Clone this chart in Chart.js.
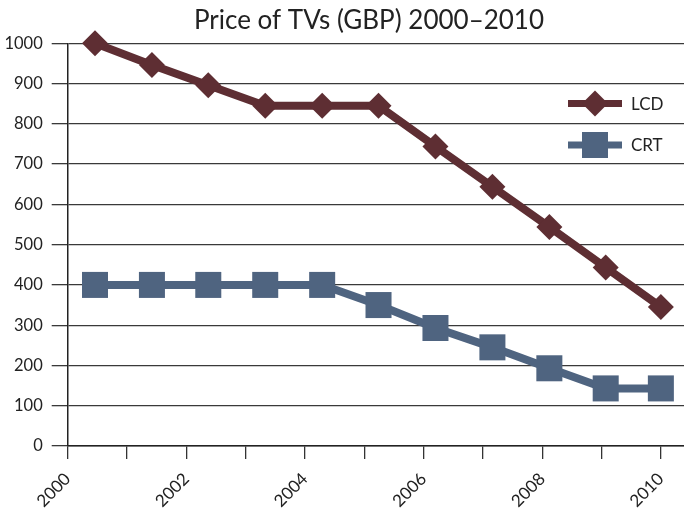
<!DOCTYPE html>
<html>
<head>
<meta charset="utf-8">
<title>Price of TVs (GBP) 2000–2010</title>
<script src="https://cdn.jsdelivr.net/npm/chart.js@4/dist/chart.umd.min.js"></script>
<style>
  html, body { margin: 0; padding: 0; background: #ffffff; }
  #wrap { width: 684px; height: 512px; }
</style>
</head>
<body>
<div id="wrap"><canvas id="chart" width="684" height="512"></canvas></div>
<script>
// Sample positions along the year axis (decimal years)
const years = [2000.46, 2001.42, 2002.37, 2003.33, 2004.29, 2005.24, 2006.2, 2007.16, 2008.12, 2009.07, 2010.0];
// Prices in GBP
const lcdPrices = [1000, 946, 896, 845, 845, 845, 744, 644, 544, 443, 345];
const crtPrices = [400, 400, 400, 400, 400, 350, 293, 245, 193, 143, 143];
// Axis ticks
const yearTicks = [2000, 2001, 2002, 2003, 2004, 2005, 2006, 2007, 2008, 2009, 2010];
const yearLabels = ['2000', '', '2002', '', '2004', '', '2006', '', '2008', '', '2010'];
const seriesNames = ['LCD', 'CRT'];
const chartTitle = 'Price of TVs (GBP) 2000–2010';

const LCD_COLOR = '#5e2e33';
const CRT_COLOR = '#4f6480';
const FONT = 'Lato, "Open Sans", sans-serif';

const toPoints = (xs, ys) => xs.map((x, i) => ({ x: x, y: ys[i] }));

// Title centred over the plot, in the space reserved by layout padding
const plotTitle = {
  id: 'plotTitle',
  afterDraw(chart) {
    const ctx = chart.ctx;
    ctx.save();
    ctx.fillStyle = '#222222';
    ctx.font = '26px ' + FONT;
    ctx.textAlign = 'center';
    ctx.textBaseline = 'alphabetic';
    ctx.fillText(chartTitle, 369, 29);
    ctx.restore();
  }
};

// Legend drawn as line + marker, matching each dataset's styling
const lineLegend = {
  id: 'lineLegend',
  afterDraw(chart) {
    const ctx = chart.ctx;
    const rows = [103.5, 145];
    chart.data.datasets.forEach((ds, i) => {
      const y = rows[i];
      ctx.save();
      ctx.strokeStyle = ds.borderColor;
      ctx.lineWidth = 7;
      ctx.beginPath();
      ctx.moveTo(568, y);
      ctx.lineTo(622, y);
      ctx.stroke();
      ctx.fillStyle = ds.pointBackgroundColor;
      ctx.strokeStyle = ds.pointBorderColor;
      Chart.helpers.drawPoint(ctx, {
        pointStyle: ds.pointStyle,
        radius: ds.pointRadius,
        borderWidth: 0,
        rotation: 0
      }, 595, y);
      ctx.fillStyle = '#222222';
      ctx.font = '17px ' + FONT;
      ctx.textBaseline = 'middle';
      ctx.textAlign = 'left';
      ctx.fillText(ds.label, 631, y + 1);
      ctx.restore();
    });
  }
};

new Chart(document.getElementById('chart'), {
  type: 'line',
  data: {
    datasets: [
      {
        label: seriesNames[0],
        data: toPoints(years, lcdPrices),
        borderColor: LCD_COLOR,
        backgroundColor: LCD_COLOR,
        pointBackgroundColor: LCD_COLOR,
        pointBorderColor: LCD_COLOR,
        borderWidth: 8,
        pointStyle: 'rectRot',
        pointRadius: 13,
        pointBorderWidth: 0,
        pointHoverRadius: 13,
        tension: 0,
        clip: false
      },
      {
        label: seriesNames[1],
        data: toPoints(years, crtPrices),
        borderColor: CRT_COLOR,
        backgroundColor: CRT_COLOR,
        pointBackgroundColor: CRT_COLOR,
        pointBorderColor: CRT_COLOR,
        borderWidth: 8,
        pointStyle: 'rect',
        pointRadius: 18.4,
        pointBorderWidth: 0,
        pointHoverRadius: 18.4,
        tension: 0,
        clip: false
      }
    ]
  },
  options: {
    responsive: false,
    animation: false,
    devicePixelRatio: 1,
    layout: { autoPadding: false, padding: { top: 43.3, right: 0, bottom: 0, left: 0 } },
    plugins: {
      legend: { display: false },
      tooltip: { enabled: false },
      title: { display: false }
    },
    scales: {
      x: {
        type: 'linear',
        min: 2000,
        max: 2010.39,
        afterBuildTicks(scale) {
          scale.ticks = yearTicks.map(v => ({ value: v }));
        },
        afterFit(scale) {
          scale.height = 66;
          scale.paddingLeft = 0;
          scale.paddingRight = 0;
        },
        ticks: {
          autoSkip: false,
          maxRotation: 45,
          minRotation: 45,
          padding: 10,
          color: '#222222',
          font: { family: FONT, size: 17 },
          callback(value, index) { return yearLabels[index]; }
        },
        grid: {
          drawOnChartArea: false,
          drawTicks: true,
          tickLength: 13,
          color: '#333333',
          lineWidth: 1.3
        },
        border: { display: true, color: '#222222', width: 1.5 }
      },
      y: {
        min: 0,
        max: 1000,
        afterFit(scale) {
          scale.width = 67.7;
          scale.paddingTop = 0;
          scale.paddingBottom = 0;
        },
        ticks: {
          stepSize: 100,
          padding: 9,
          color: '#222222',
          font: { family: FONT, size: 16.5 },
          callback(value) { return String(value); }
        },
        grid: {
          drawOnChartArea: true,
          drawTicks: true,
          tickLength: 16,
          color: '#3a3a3a',
          lineWidth: 1.3
        },
        border: { display: true, color: '#222222', width: 1.5 }
      }
    }
  },
  plugins: [plotTitle, lineLegend]
});
</script>
</body>
</html>
